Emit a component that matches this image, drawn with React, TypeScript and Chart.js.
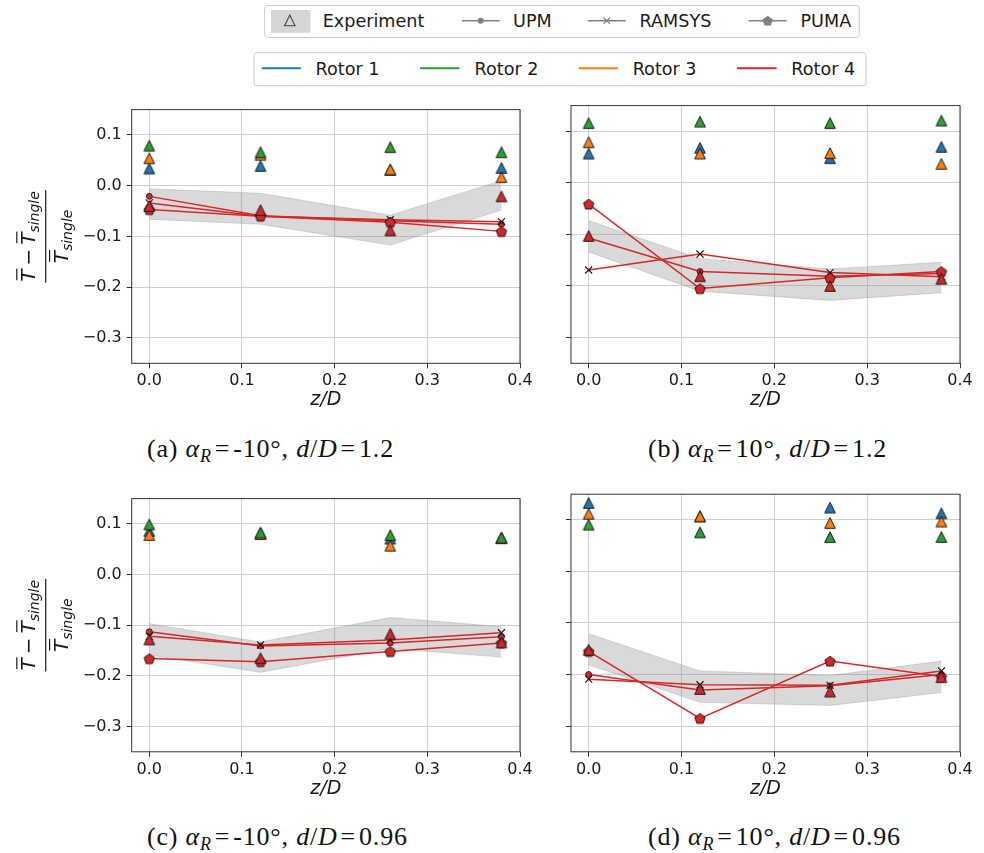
import React, { useEffect, useRef } from 'react';
import { Chart, registerables } from 'chart.js';

Chart.register(...registerables);

// Spanwise stations and axis ticks
const zOverD = [0, 0.12, 0.26, 0.38];
const xTickValues = [0, 0.1, 0.2, 0.3, 0.4];
const yTickValues = [0.1, 0, -0.1, -0.2, -0.3];

const rotorNames = ['Rotor 1', 'Rotor 2', 'Rotor 3', 'Rotor 4'];
const rotorColors = ['#1f77b4', '#2ca02c', '#ff7f0e', '#d62728'];
const codeNames = ['UPM', 'RAMSYS', 'PUMA'];

const captionLetters = ['a', 'b', 'c', 'd'];
const captionAlpha = ['-10', '10', '-10', '10'];
const captionSpacing = ['1.2', '1.2', '0.96', '0.96'];

// (a) alpha_R = -10 deg, d/D = 1.2
const aRotor1 = [0.034, 0.039, 0.031, 0.035];
const aRotor2 = [0.079, 0.066, 0.076, 0.066];
const aRotor3 = [0.054, 0.061, 0.032, 0.017];
const aRotor4 = [-0.040, -0.048, -0.088, -0.021];
const aBandLow = [-0.066, -0.076, -0.117, -0.048];
const aBandHigh = [-0.006, -0.015, -0.058, 0.010];
const aUpm = [-0.021, -0.059, -0.069, -0.076];
const aRamsys = [-0.034, -0.060, -0.067, -0.071];
const aPuma = [-0.047, -0.060, -0.072, -0.090];

// (b) alpha_R = 10 deg, d/D = 1.2
const bRotor1 = [0.057, 0.068, 0.048, 0.070];
const bRotor2 = [0.116, 0.119, 0.116, 0.121];
const bRotor3 = [0.079, 0.057, 0.058, 0.037];
const bRotor4 = [-0.103, -0.181, -0.200, -0.186];
const bBandLow = [-0.134, -0.210, -0.228, -0.213];
const bBandHigh = [-0.073, -0.147, -0.167, -0.154];
const bUpm = [-0.107, -0.172, -0.181, -0.176];
const bRamsys = [-0.169, -0.138, -0.174, -0.182];
const bPuma = [-0.041, -0.205, -0.184, -0.172];

// (c) alpha_R = -10 deg, d/D = 0.96
const cRotor1 = [0.086, 0.081, 0.071, 0.072];
const cRotor2 = [0.099, 0.083, 0.078, 0.073];
const cRotor3 = [0.078, 0.080, 0.057, 0.072];
const cRotor4 = [-0.128, -0.165, -0.117, -0.134];
const cBandLow = [-0.159, -0.193, -0.146, -0.163];
const cBandHigh = [-0.097, -0.133, -0.085, -0.103];
const cUpm = [-0.113, -0.141, -0.135, -0.123];
const cRamsys = [-0.122, -0.139, -0.129, -0.115];
const cPuma = [-0.166, -0.172, -0.152, -0.135];

// (d) alpha_R = 10 deg, d/D = 0.96
const dRotor1 = [0.133, 0.107, 0.124, 0.113];
const dRotor2 = [0.091, 0.076, 0.067, 0.067];
const dRotor3 = [0.112, 0.107, 0.094, 0.097];
const dRotor4 = [-0.152, -0.228, -0.233, -0.205];
const dBandLow = [-0.181, -0.254, -0.260, -0.235];
const dBandHigh = [-0.121, -0.193, -0.202, -0.174];
const dUpm = [-0.200, -0.230, -0.222, -0.200];
const dRamsys = [-0.209, -0.220, -0.221, -0.193];
const dPuma = [-0.155, -0.285, -0.174, -0.204];

type PanelData = {
  rotors: number[][];
  bandLow: number[];
  bandHigh: number[];
  sims: number[][];
  showYLabels: boolean;
};

const panelData: PanelData[] = [
  { rotors: [aRotor1, aRotor2, aRotor3, aRotor4], bandLow: aBandLow, bandHigh: aBandHigh, sims: [aUpm, aRamsys, aPuma], showYLabels: true },
  { rotors: [bRotor1, bRotor2, bRotor3, bRotor4], bandLow: bBandLow, bandHigh: bBandHigh, sims: [bUpm, bRamsys, bPuma], showYLabels: false },
  { rotors: [cRotor1, cRotor2, cRotor3, cRotor4], bandLow: cBandLow, bandHigh: cBandHigh, sims: [cUpm, cRamsys, cPuma], showYLabels: true },
  { rotors: [dRotor1, dRotor2, dRotor3, dRotor4], bandLow: dBandLow, bandHigh: dBandHigh, sims: [dUpm, dRamsys, dPuma], showYLabels: false },
];

// Canvas placement and plot-area rectangle (page pixels)
type Frame = { left: number; top: number; width: number; height: number; area: { l: number; t: number; r: number; b: number } };
const frames: Frame[] = [
  { left: 0, top: 95, width: 545, height: 320, area: { l: 131.7, t: 105.6, r: 520, b: 363.3 } },
  { left: 545, top: 95, width: 439, height: 320, area: { l: 571, t: 105.6, r: 960, b: 363.3 } },
  { left: 0, top: 484, width: 545, height: 320, area: { l: 131.7, t: 494.2, r: 520, b: 751.8 } },
  { left: 545, top: 484, width: 439, height: 320, area: { l: 571, t: 494.2, r: 960, b: 751.8 } },
];
const captionLeft = [147, 648, 147, 648];
const captionTop = [434, 434, 822, 822];

const INK = '#1a1a1a';
const SIM_RED = '#d62728';

function markerCanvas(draw: (ctx: CanvasRenderingContext2D, c: number) => void, size: number) {
  const cv = document.createElement('canvas');
  cv.width = size;
  cv.height = size;
  const ctx = cv.getContext('2d')!;
  draw(ctx, size / 2);
  return cv;
}

function triangleMarker(fill: string) {
  return markerCanvas((ctx, c) => {
    const h = 5.3;
    ctx.beginPath();
    ctx.moveTo(c, c - h);
    ctx.lineTo(c - h, c + h);
    ctx.lineTo(c + h, c + h);
    ctx.closePath();
    ctx.fillStyle = fill;
    ctx.fill();
    ctx.strokeStyle = INK;
    ctx.lineWidth = 1;
    ctx.stroke();
  }, 14);
}

function pentagonMarker(fill: string) {
  return markerCanvas((ctx, c) => {
    const r = 5.4;
    ctx.beginPath();
    for (let k = 0; k < 5; k++) {
      const a = -Math.PI / 2 + (k * 2 * Math.PI) / 5;
      const px = c + r * Math.cos(a);
      const py = c + 0.6 + r * Math.sin(a);
      if (k === 0) ctx.moveTo(px, py);
      else ctx.lineTo(px, py);
    }
    ctx.closePath();
    ctx.fillStyle = fill;
    ctx.fill();
    ctx.strokeStyle = INK;
    ctx.lineWidth = 1;
    ctx.stroke();
  }, 14);
}

function drawYFraction(ctx: CanvasRenderingContext2D, cx: number, cy: number) {
  ctx.save();
  ctx.translate(cx, cy);
  ctx.rotate(-Math.PI / 2);
  ctx.fillStyle = INK;
  ctx.textAlign = 'left';
  ctx.textBaseline = 'alphabetic';
  const big = 'italic 20px "DejaVu Sans"';
  const reg = '20px "DejaVu Sans"';
  const small = 'italic 14px "DejaVu Sans"';
  const width = (font: string, t: string) => {
    ctx.font = font;
    return ctx.measureText(t).width;
  };
  const wT = width(big, 'T');
  const wMinus = width(reg, '\u2212');
  const wSub = width(small, 'single');
  const gap = 4;
  const numW = wT + gap + wMinus + gap + wT + wSub;
  const denW = wT + wSub;
  const tBar = (u: number, base: number) => {
    ctx.font = big;
    ctx.fillText('T', u, base);
    ctx.fillRect(u + 1.5, base - 19, wT - 0.5, 1.2);
  };
  let u = -numW / 2;
  const nb = -10.5;
  tBar(u, nb);
  u += wT + gap;
  ctx.font = reg;
  ctx.fillText('\u2212', u, nb);
  u += wMinus + gap;
  tBar(u, nb);
  u += wT;
  ctx.font = small;
  ctx.fillText('single', u, nb + 4);

  const w = Math.max(numW, denW) + 2;
  ctx.fillRect(-w / 2, -0.6, w, 1.2);

  u = -denW / 2;
  const db = 22.3;
  tBar(u, db);
  u += wT;
  ctx.font = small;
  ctx.fillText('single', u, db + 4);
  ctx.restore();
}

function buildConfig(p: PanelData, f: Frame, tri: HTMLCanvasElement[], pent: HTMLCanvasElement) {
  const pts = (ys: number[]) => ys.map((y, i) => ({ x: zOverD[i], y }));
  const bandEdge = 'rgba(128,128,128,0.28)';
  const rotorOrder = [4, 2, 3, 1];
  const datasets: any[] = [
    { label: 'band-low', data: pts(p.bandLow), borderColor: bandEdge, borderWidth: 1, pointRadius: 0, fill: false, order: 20 },
    { label: 'band-high', data: pts(p.bandHigh), borderColor: bandEdge, borderWidth: 1, pointRadius: 0, fill: '-1', backgroundColor: 'rgba(128,128,128,0.3)', order: 19 },
    {
      label: codeNames[0], data: pts(p.sims[0]), borderColor: SIM_RED, borderWidth: 1.5, fill: false,
      pointStyle: 'circle', pointRadius: 3, pointBackgroundColor: SIM_RED, pointBorderColor: INK, pointBorderWidth: 0.8, order: 12,
    },
    {
      label: codeNames[1], data: pts(p.sims[1]), borderColor: SIM_RED, borderWidth: 1.5, fill: false,
      pointStyle: 'crossRot', pointRadius: 5, pointBorderColor: INK, pointBorderWidth: 1.2, order: 11,
    },
    {
      label: codeNames[2], data: pts(p.sims[2]), borderColor: SIM_RED, borderWidth: 1.5, fill: false,
      pointStyle: pent, pointRadius: 5, order: 10,
    },
  ];
  p.rotors.forEach((vals, k) => {
    datasets.push({
      label: rotorNames[k], data: pts(vals), showLine: false, pointStyle: tri[k], pointRadius: 6, order: rotorOrder[k],
    });
  });

  const local = { l: f.area.l - f.left, t: f.area.t - f.top, r: f.area.r - f.left, b: f.area.b - f.top };
  const fmt = (v: number) => (v < -1e-9 ? '\u2212' + Math.abs(v).toFixed(1) : Math.abs(v).toFixed(1));

  const framePlugin = {
    id: 'frameAndTitles',
    afterDraw(chart: any) {
      const { ctx, chartArea: a } = chart;
      ctx.save();
      ctx.strokeStyle = '#333';
      ctx.lineWidth = 1;
      ctx.strokeRect(a.left, a.top, a.right - a.left, a.bottom - a.top);
      ctx.fillStyle = INK;
      ctx.font = 'italic 19px "DejaVu Sans"';
      ctx.textAlign = 'center';
      ctx.textBaseline = 'middle';
      ctx.fillText('z/D', (a.left + a.right) / 2, 400 - 95);
      ctx.restore();
      if (p.showYLabels) drawYFraction(ctx, 45.7 - f.left, (a.top + a.bottom) / 2);
    },
  };

  return {
    type: 'line' as const,
    data: { datasets },
    options: {
      responsive: false,
      animation: false as const,
      devicePixelRatio: 1,
      events: [],
      layout: { padding: { left: 0, top: local.t, right: f.width - local.r, bottom: 0 } },
      plugins: { legend: { display: false }, tooltip: { enabled: false } },
      scales: {
        x: {
          type: 'linear' as const,
          min: -0.019,
          max: 0.4,
          afterBuildTicks: (s: any) => { s.ticks = xTickValues.map((v) => ({ value: v })); },
          afterFit: (s: any) => { s.height = f.height - local.b; },
          ticks: { callback: (v: any) => fmt(Number(v)), font: { family: 'DejaVu Sans', size: 16 }, color: INK, padding: 3, maxRotation: 0, autoSkip: false },
          grid: { color: '#cfcfcf', lineWidth: 1, tickLength: 5, tickColor: '#333', tickWidth: 1 },
          border: { display: false },
        },
        y: {
          type: 'linear' as const,
          min: -0.35,
          max: 0.15,
          afterBuildTicks: (s: any) => { s.ticks = yTickValues.map((v) => ({ value: v })); },
          afterFit: (s: any) => { s.width = local.l; },
          ticks: { display: p.showYLabels, callback: (v: any) => fmt(Number(v)), font: { family: 'DejaVu Sans', size: 16 }, color: INK, padding: 5 },
          grid: { color: '#cfcfcf', lineWidth: 1, tickLength: 5, tickColor: '#333', tickWidth: 1 },
          border: { display: false },
        },
      },
    },
    plugins: [framePlugin],
  };
}

// Legend entries (page pixels)
const legendTextFont = { fontFamily: 'DejaVu Sans', fontSize: 17.6 } as const;
const codeLineX = [[461.8, 499.6], [587.8, 625.6], [748.8, 786.6]];
const codeTextX = [513.1, 639.5, 800.5];
const rotorLineX = [[261.9, 300.9], [420.1, 459.5], [578.7, 618], [736.9, 776.6]];
const rotorTextX = [315.6, 474.6, 632.7, 791.3];

function pentagonPoints(cx: number, cy: number, r: number) {
  const out: string[] = [];
  for (let k = 0; k < 5; k++) {
    const a = -Math.PI / 2 + (k * 2 * Math.PI) / 5;
    out.push(`${(cx + r * Math.cos(a)).toFixed(2)},${(cy + 0.5 + r * Math.sin(a)).toFixed(2)}`);
  }
  return out.join(' ');
}

function Legends() {
  const y1 = 20.7;
  const y2 = 68.3;
  const gray = '#808080';
  return (
    <svg width={984} height={95} style={{ position: 'absolute', left: 0, top: 0 }}>
      <rect x={264.7} y={5.5} width={594.6} height={32} rx={3} fill="#fff" stroke="#cccccc" strokeWidth={1} />
      <rect x={271} y={10} width={39.4} height={22.7} fill="#d5d5d5" />
      <polygon points="289.8,15 284.6,25.8 295,25.8" fill="none" stroke="#444" strokeWidth={1.1} />
      <text x={322.7} y={y1 + 6.4} style={legendTextFont} fill={INK}>Experiment</text>
      {codeNames.map((name, i) => {
        const [x0, x1] = codeLineX[i];
        const mx = (x0 + x1) / 2;
        return (
          <g key={name}>
            <line x1={x0} y1={y1} x2={x1} y2={y1} stroke={gray} strokeWidth={1.5} />
            {i === 0 && <circle cx={mx} cy={y1} r={3} fill={gray} />}
            {i === 1 && (
              <g stroke={gray} strokeWidth={1.2}>
                <line x1={mx - 3.2} y1={y1 - 3.2} x2={mx + 3.2} y2={y1 + 3.2} />
                <line x1={mx - 3.2} y1={y1 + 3.2} x2={mx + 3.2} y2={y1 - 3.2} />
              </g>
            )}
            {i === 2 && <polygon points={pentagonPoints(mx, y1, 5.4)} fill={gray} />}
            <text x={codeTextX[i]} y={y1 + 6.4} style={legendTextFont} fill={INK}>{name}</text>
          </g>
        );
      })}
      <rect x={254} y={52.7} width={612} height={33} rx={3} fill="#fff" stroke="#cccccc" strokeWidth={1} />
      {rotorNames.map((name, i) => (
        <g key={name}>
          <line x1={rotorLineX[i][0]} y1={y2} x2={rotorLineX[i][1]} y2={y2} stroke={rotorColors[i]} strokeWidth={2} />
          <text x={rotorTextX[i]} y={y2 + 6.4} style={legendTextFont} fill={INK}>{name}</text>
        </g>
      ))}
    </svg>
  );
}

function Caption({ index }: { index: number }) {
  const eq = { margin: '0 3px' };
  return (
    <div
      style={{
        position: 'absolute',
        left: captionLeft[index],
        top: captionTop[index],
        font: '26px "Liberation Serif"',
        letterSpacing: '0.8px',
        lineHeight: '30px',
        whiteSpace: 'nowrap',
        color: '#111',
      }}
    >
      ({captionLetters[index]}) <i>α</i>
      <i style={{ fontSize: 18, position: 'relative', top: 5 }}>R</i>
      <span style={eq}>=</span>
      {captionAlpha[index]}°, <i>d</i>/<i>D</i>
      <span style={eq}>=</span>
      {captionSpacing[index]}
    </div>
  );
}

export default function App() {
  const c0 = useRef<HTMLCanvasElement>(null);
  const c1 = useRef<HTMLCanvasElement>(null);
  const c2 = useRef<HTMLCanvasElement>(null);
  const c3 = useRef<HTMLCanvasElement>(null);
  const refs = [c0, c1, c2, c3];

  useEffect(() => {
    const tri = rotorColors.map((c) => triangleMarker(c));
    const pent = pentagonMarker(SIM_RED);
    const charts = panelData.map((p, i) => new Chart(refs[i].current!, buildConfig(p, frames[i], tri, pent) as any));
    return () => charts.forEach((c) => c.destroy());
  }, []);

  return (
    <div style={{ position: 'absolute', left: 0, top: 0, width: 984, height: 853, background: '#fff', overflow: 'hidden' }}>
      <Legends />
      {frames.map((f, i) => (
        <canvas
          key={i}
          ref={refs[i]}
          width={f.width}
          height={f.height}
          style={{ position: 'absolute', left: f.left, top: f.top, width: f.width, height: f.height }}
        />
      ))}
      {[0, 1, 2, 3].map((i) => <Caption key={i} index={i} />)}
    </div>
  );
}
